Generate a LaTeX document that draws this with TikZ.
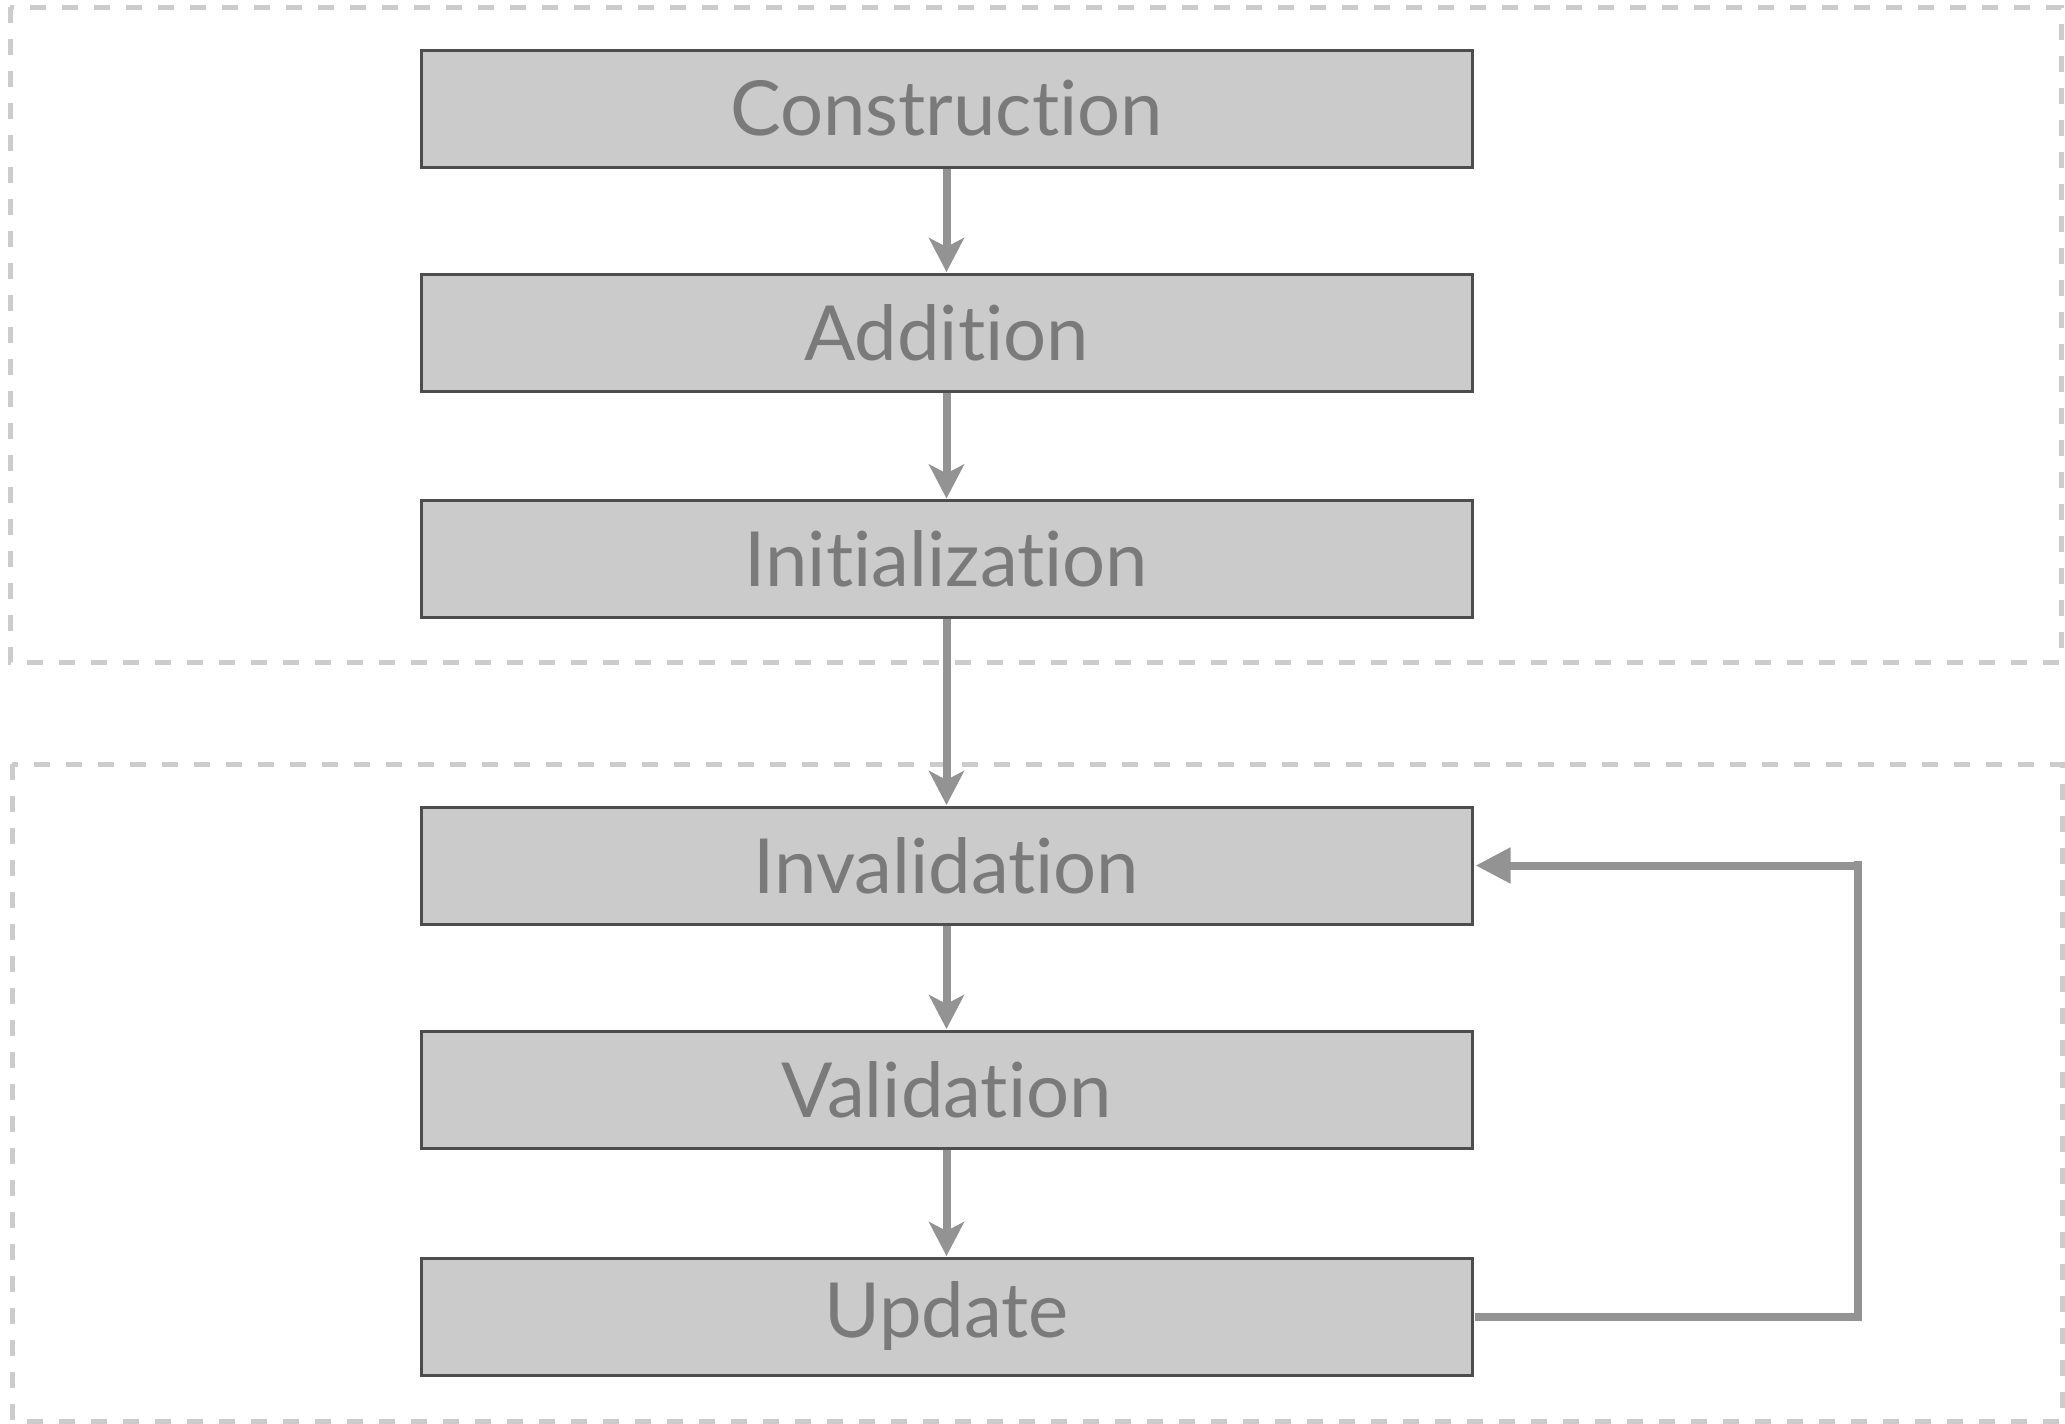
\documentclass[tikz,border=0pt]{standalone}
\usepackage{fontspec}
\setmainfont{Lato}[Ligatures={NoCommon,NoDiscretionary,NoContextual}]
\usetikzlibrary{arrows.meta}
\definecolor{boxfill}{HTML}{CBCBCB}
\definecolor{boxline}{HTML}{4D4D4D}
\definecolor{txtgray}{HTML}{7A7A7A}
\definecolor{arrgray}{HTML}{939393}
\definecolor{dashgray}{HTML}{CCCCCC}
\tikzset{
  stagebox/.style={draw=boxline, line width=3pt, fill=boxfill, minimum width=1051pt, minimum height=117pt,
    inner sep=0pt, text=txtgray, font=\fontsize{76}{86}\selectfont},
  conn/.style={draw=arrgray, line width=8pt},
  downarr/.style={conn, -{Stealth[length=34pt, width=35pt, inset=9pt]}, shorten >=0.5pt},
  backarr/.style={conn, -{Triangle[length=35pt, width=34pt]}, shorten >=2pt},
  groupbox/.style={draw=dashgray, line width=5pt, dash pattern=on 16pt off 16pt}
}
\begin{document}
\begin{tikzpicture}[x=1pt, y=-1pt]
\useasboundingbox (0,0) rectangle (2065,1424);
\draw[groupbox] (10,7) rectangle (2061,662);
\draw[groupbox] (12,764) rectangle (2062,1421);
\node[stagebox] (con) at (946.5,108.5) {Construction};
\node[stagebox] (add) at (946.5,332.5) {Addition};
\node[stagebox] (ini) at (946.5,559) {Initialization};
\node[stagebox] (inv) at (946.5,865.5) {Invalidation};
\node[stagebox] (val) at (946.5,1089.5) {Validation};
\node[stagebox] (upd) at (946.5,1316.5) {Update};
\draw[downarr] (con) -- (add);
\draw[downarr] (add) -- (ini);
\draw[downarr] (ini) -- (inv);
\draw[downarr] (inv) -- (val);
\draw[downarr] (val) -- (upd);
\coordinate (lb) at (1858,1316.5);
\coordinate (lt) at (1858,865.5);
\coordinate (lbx) at (1858,1321);
\coordinate (ltx) at (1858,861);
\draw[conn] ([xshift=1.5pt]upd.east) -- (lb);
\draw[conn] (lbx) -- (ltx);
\draw[backarr] (lt) -- (inv.east);
\end{tikzpicture}
\end{document}
